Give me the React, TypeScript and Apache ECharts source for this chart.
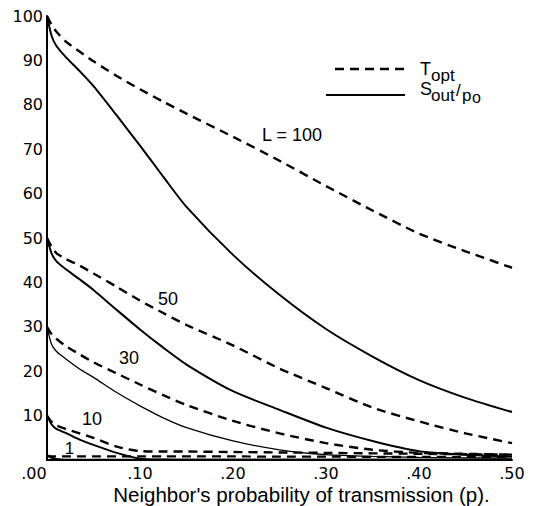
import React, { useEffect, useRef } from "react";
import * as echarts from "echarts";

// Neighbor's probability of transmission (p)
const P = [0, 0.005, 0.01, 0.02, 0.035, 0.05, 0.075, 0.1, 0.125, 0.15, 0.2, 0.25, 0.3, 0.35, 0.4, 0.45, 0.5];

// T_opt (dashed) and S_out/p_o (solid) for each L
const T100 = [100, 98, 96.5, 94.3, 92, 89.8, 86.5, 83.5, 80.7, 78, 72.8, 67.4, 61.7, 56.2, 51, 47, 43.3];
const S100 = [100, 95.5, 93.3, 90.8, 87.6, 84.2, 77.6, 70.8, 63.8, 57, 46.2, 37.2, 29.5, 23.3, 18, 14, 10.8];
const T50 = [50, 48, 46.6, 45.3, 43.8, 42, 39, 35.9, 33.1, 30.4, 25.8, 20.6, 16.2, 11.8, 8.7, 6, 3.8];
const S50 = [50, 46.5, 44.8, 43, 40.7, 38.3, 33.8, 29.4, 25.3, 21.5, 15.5, 11.3, 7.3, 4.3, 2, 1.2, 0.8];
const T30 = [30, 28.3, 27.3, 25.7, 23.8, 22, 19.5, 17, 14.6, 12.4, 8.8, 6, 3.8, 2.3, 1.6, 1.4, 1.2];
const S30 = [30, 26, 24.5, 22.8, 20.5, 18.6, 15.2, 12.2, 9.5, 7.3, 4.3, 2.3, 1.2, 0.8, 0.6, 0.5, 0.4];
const T10 = [10, 8.6, 7.8, 7, 6, 5, 3, 2, 1.9, 1.9, 1.8, 1.7, 1.6, 1.5, 1.4, 1.3, 1.2];
const S10 = [10, 8, 7, 6.1, 4.6, 3.4, 1.6, 0.3, 0.1, 0.05, 0.05, 0.05, 0.05, 0.05, 0.05, 0.05, 0.05];
const T1 = [1, 0.85, 0.8, 0.8, 0.8, 0.8, 0.8, 0.8, 0.8, 0.8, 0.8, 0.75, 0.75, 0.7, 0.7, 0.7, 0.7];
const S1 = [1, 0.5, 0.2, 0.05, 0.05, 0.05, 0.05, 0.05, 0.05, 0.05, 0.05, 0.05, 0.05, 0.05, 0.05, 0.05, 0.05];

const X_TICKS = [0, 0.1, 0.2, 0.3, 0.4, 0.5];
const Y_TICKS = [10, 20, 30, 40, 50, 60, 70, 80, 90, 100];

const CURVE_LABELS = ["L = 100", "50", "30", "10", "1"];
const LEGEND = ["T_opt", "S_out/p_o"];
const X_TITLE = "Neighbor's probability of transmission (p).";

const DASH = [9, 6];

function pairs(ys: number[]) {
  return P.map((p, i) => [p, ys[i]]);
}

function line(name: string, ys: number[], dashed: boolean, width: number) {
  return {
    type: "line",
    name,
    data: pairs(ys),
    showSymbol: false,
    symbol: "none",
    smooth: 0.25,
    clip: false,
    silent: true,
    lineStyle: { color: "#000", width, type: dashed ? DASH : "solid" },
  };
}

export default function App() {
  const ref = useRef<HTMLDivElement>(null);
  useEffect(() => {
    if (!ref.current) return;
    const chart = echarts.init(ref.current, null, { renderer: "svg" });
    const labelFont = "'Liberation Sans', Arial, sans-serif";
    const tickFont = "'DejaVu Sans', sans-serif";
    chart.setOption({
      animation: false,
      backgroundColor: "#fff",
      grid: { left: 47, right: 24, top: 16, bottom: 46 },
      xAxis: {
        type: "value",
        min: 0,
        max: 0.5,
        interval: 0.1,
        axisLine: { show: true, onZero: false, lineStyle: { color: "#000", width: 2 } },
        axisTick: { show: false },
        splitLine: { show: false },
        axisLabel: {
          color: "#000",
          fontFamily: tickFont,
          fontSize: 16,
          margin: 5,
          lineHeight: 16,
          formatter: (v: number) => {
            const s = v.toFixed(2).slice(1);
            return v === X_TICKS[0] ? "{m|" + s + "}" : s;
          },
          rich: {
            m: { fontFamily: tickFont, fontSize: 16, lineHeight: 16, color: "#000", padding: [0, 26, 0, 0] },
          },
        },
      },
      yAxis: {
        type: "value",
        min: 0,
        max: 100,
        interval: 10,
        axisLine: { show: true, onZero: false, lineStyle: { color: "#000", width: 2 } },
        axisTick: { show: false },
        splitLine: { show: false },
        axisLabel: {
          color: "#000",
          fontFamily: tickFont,
          fontSize: 16,
          margin: 4,
          formatter: (v: number) => (Y_TICKS.indexOf(v) >= 0 ? String(v) : ""),
        },
      },
      series: [
        line("T100", T100, true, 2.4),
        line("S100", S100, false, 2),
        line("T50", T50, true, 2.4),
        line("S50", S50, false, 2),
        line("T30", T30, true, 2.4),
        line("S30", S30, false, 1.3),
        line("T10", T10, true, 2.4),
        line("S10", S10, false, 2),
        line("T1", T1, true, 2.2),
        line("S1", S1, false, 2),
      ],
      graphic: [
        // legend
        { type: "line", shape: { x1: 335, y1: 69, x2: 405, y2: 69 }, style: { stroke: "#000", lineWidth: 2.4, lineDash: DASH } },
        { type: "line", shape: { x1: 326, y1: 95, x2: 405, y2: 95 }, style: { stroke: "#000", lineWidth: 2 } },
        { type: "text", x: 420, y: 69, style: { text: LEGEND[0].split("_")[0], fontSize: 18, fontFamily: labelFont, fill: "#000", textAlign: "left", textVerticalAlign: "middle" } },
        { type: "text", x: 431, y: 75, style: { text: LEGEND[0].split("_")[1], fontSize: 17, fontFamily: labelFont, fill: "#000", textAlign: "left", textVerticalAlign: "middle" } },
        { type: "text", x: 420, y: 88.5, style: { text: "S", fontSize: 18, fontFamily: labelFont, fill: "#000", textAlign: "left", textVerticalAlign: "middle" } },
        { type: "text", x: 431, y: 95, style: { text: "out", fontSize: 17, fontFamily: labelFont, fill: "#000", textAlign: "left", textVerticalAlign: "middle" } },
        { type: "text", x: 456, y: 90, style: { text: "/", fontSize: 17, fontFamily: labelFont, fill: "#000", textAlign: "left", textVerticalAlign: "middle" } },
        { type: "text", x: 462, y: 95, style: { text: "p", fontSize: 17, fontFamily: labelFont, fill: "#000", textAlign: "left", textVerticalAlign: "middle" } },
        { type: "text", x: 472, y: 97, style: { text: "o", fontSize: 16, fontFamily: labelFont, fill: "#000", textAlign: "left", textVerticalAlign: "middle" } },
        // curve labels
        { type: "text", x: 292, y: 135, style: { text: CURVE_LABELS[0], fontSize: 18, fontFamily: labelFont, fill: "#000", textAlign: "center", textVerticalAlign: "middle" } },
        { type: "text", x: 168, y: 299, style: { text: CURVE_LABELS[1], fontSize: 18, fontFamily: labelFont, fill: "#000", textAlign: "center", textVerticalAlign: "middle" } },
        { type: "text", x: 129, y: 358, style: { text: CURVE_LABELS[2], fontSize: 18, fontFamily: labelFont, fill: "#000", textAlign: "center", textVerticalAlign: "middle" } },
        { type: "text", x: 92, y: 419, style: { text: CURVE_LABELS[3], fontSize: 18, fontFamily: labelFont, fill: "#000", textAlign: "center", textVerticalAlign: "middle" } },
        { type: "text", x: 69.5, y: 448, style: { text: CURVE_LABELS[4], fontSize: 17, fontFamily: labelFont, fill: "#000", textAlign: "center", textVerticalAlign: "middle" } },
        // x-axis title
        { type: "text", x: 301.5, y: 494, style: { text: X_TITLE, fontSize: 20.5, lineHeight: 20, fontFamily: labelFont, fill: "#000", textAlign: "center", textVerticalAlign: "middle" } },
      ],
    });
    return () => chart.dispose();
  }, []);
  return (
    <div
      ref={ref}
      style={{ position: "fixed", left: 0, top: 0, width: 536, height: 506, background: "#fff" }}
    />
  );
}
